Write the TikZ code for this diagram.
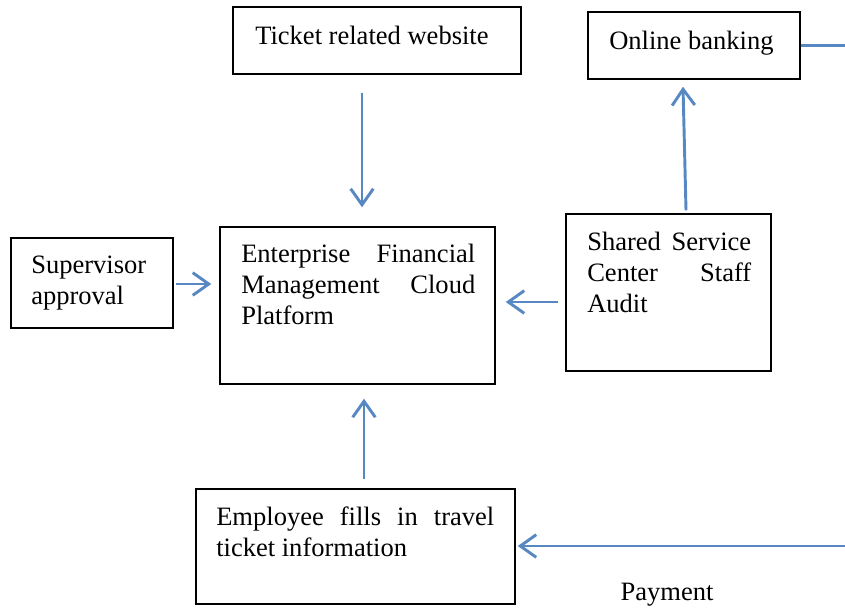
\documentclass[tikz,border=0pt]{standalone}
\usepackage{fontspec}
\setmainfont{Liberation Serif}
\usetikzlibrary{arrows.meta,calc,fit}
\definecolor{flowblue}{RGB}{88,136,194}
\hyphenpenalty=10000
\exhyphenpenalty=10000
\tolerance=10000
\begin{document}
\begin{tikzpicture}[x=0.75pt,y=-0.75pt,
  box/.style={draw=black,line width=1.1pt,inner sep=0pt},
  lbl/.style={inner sep=0pt,anchor=north west,align=left,
    font=\fontsize{19.9}{23.25}\selectfont},
  jlbl/.style={lbl,align=justify},
  arr/.style={draw=flowblue,line width=2.2pt,
    -{Straight Barb[length=12pt,width=17pt]}},
  link/.style={draw=flowblue,line width=2.2pt}]
  \useasboundingbox (0,0) rectangle (845,610);

  % boxes
  \node[box,fit={(233,7) (521,74)}]    (tw)  {};
  \node[box,fit={(588,12) (800,79)}]   (ob)  {};
  \node[box,fit={(11,238) (173,328)}]  (sup) {};
  \node[box,fit={(220,227) (495,384)}] (ent) {};
  \node[box,fit={(566,214) (771,371)}] (ssc) {};
  \node[box,fit={(196,489) (515,604)}] (emp) {};

  % box texts
  \node[lbl] (twt)  at (255,22.3)  {\strut Ticket related website};
  \node[lbl] (obt)  at (609,27.3)  {\strut Online banking};
  \node[lbl] (supt) at (31,251.3)  {\strut Supervisor\\approval};
  \node[jlbl,text width=175.5pt] (entt) at (241,240.3)
    {\strut Enterprise Financial Management Cloud Platform};
  \node[jlbl,text width=123pt] (ssct) at (587,228.3)
    {\strut Shared Service Center Staff Audit};
  \node[jlbl,text width=208.5pt] (empt) at (216,503.3)
    {\strut Employee fills in travel ticket information};

  % free ends on the right edge
  \coordinate (bankout) at (845,45.5);
  \coordinate (payin)   at (845,546);

  % connectors
  \draw[arr] ($(tw.south)+(-15,18)$)   -- ($(ent.north)+(4.5,-19)$);
  \draw[arr] ($(ssc.north)+(17.5,-3)$) -- ($(ob.south)+(-11,7)$);
  \draw[arr] ($(sup.east)+(2,1)$)      -- ($(ent.west)+(-8,-21.5)$);
  \draw[arr] ($(ssc.west)+(-7,9.5)$)   -- ($(ent.east)+(10,-3.5)$);
  \draw[arr] ($(emp.north)+(8.5,-9)$)  -- ($(ent.south)+(6.5,14)$);
  \draw[link] (ob.east) -- (bankout);
  \draw[arr] (payin) -- ($(emp.east)+(2,-0.5)$);

  \node[lbl,anchor=base] (pay) at (667,600) {Payment};
\end{tikzpicture}
\end{document}
